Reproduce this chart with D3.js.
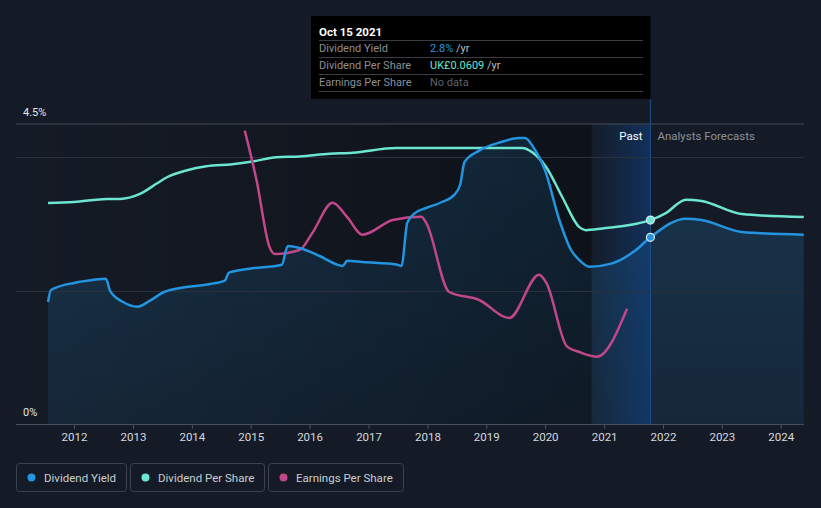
<!DOCTYPE html>
<html>
<head>
<meta charset="utf-8">
<script src="https://cdn.jsdelivr.net/npm/d3@7"></script>
<style>
  html, body { margin: 0; padding: 0; background: #151b26; }
  svg { display: block; font-family: Roboto, "Noto Sans", sans-serif; }
</style>
</head>
<body>
<svg id="chart" width="821" height="508"></svg>
<script>
// ---------- data ----------
const yieldDates = ["2011-07-24","2011-08-11","2012-01-08","2012-04-24","2012-07-17","2012-08-11","2012-10-31","2013-01-30","2013-04-16","2013-07-13","2013-10-19","2014-04-24","2014-07-24","2014-08-19","2014-12-24","2015-07-13","2015-08-19","2015-10-31","2016-03-03","2016-06-10","2016-07-24","2016-08-22","2016-11-25","2017-06-29","2017-07-24","2017-08-29","2017-10-19","2017-12-24","2018-04-01","2018-06-18","2018-07-24","2018-08-19","2018-11-18","2019-03-22","2019-07-24","2019-08-29","2019-10-23","2020-01-01","2020-03-29","2020-06-10","2020-07-31","2020-10-01","2021-02-20","2021-07-17","2021-10-15","2022-05-23","2022-08-29","2023-05-05","2024-05-23"];
const yieldValues = [1.83,2.01,2.12,2.16,2.18,2.00,1.83,1.76,1.85,1.98,2.04,2.10,2.15,2.27,2.33,2.39,2.67,2.64,2.52,2.40,2.37,2.45,2.43,2.39,2.37,3.02,3.17,3.24,3.33,3.44,3.60,3.93,4.10,4.22,4.29,4.29,4.14,3.80,3.06,2.61,2.46,2.36,2.41,2.61,2.80,3.08,3.06,2.88,2.84];

const dpsDates = ["2011-07-24","2012-01-01","2012-07-24","2012-10-12","2013-02-13","2013-05-31","2013-07-31","2013-12-02","2014-04-01","2014-09-09","2015-01-12","2015-06-10","2015-10-31","2016-05-05","2016-09-24","2017-06-21","2018-01-12","2019-08-11","2019-10-12","2020-01-08","2020-04-16","2020-07-31","2020-09-09","2020-12-20","2021-10-15","2022-01-19","2022-05-23","2022-08-29","2023-05-05","2024-05-23"];
const dpsValues = [0.0660,0.0663,0.0672,0.0672,0.0687,0.0719,0.0737,0.0758,0.0770,0.0776,0.0784,0.0797,0.0799,0.0807,0.0810,0.0824,0.0824,0.0824,0.0812,0.0767,0.0678,0.0588,0.0579,0.0584,0.0609,0.0630,0.0670,0.0666,0.0627,0.0618];

const epsDates = ["2014-11-25","2015-02-06","2015-04-27","2015-05-31","2015-10-31","2016-01-19","2016-05-23","2016-08-19","2016-11-25","2017-05-31","2017-11-25","2017-12-24","2018-05-16","2018-11-18","2019-05-23","2019-11-25","2020-01-08","2020-05-16","2020-07-31","2020-11-18","2021-05-23"];
const epsValues = [0.440,0.366,0.266,0.255,0.261,0.287,0.332,0.311,0.284,0.306,0.311,0.302,0.198,0.186,0.159,0.224,0.212,0.116,0.108,0.101,0.173];

const yTickLabels = ["0%","4.5%"];
const yearTicks = [2012,2013,2014,2015,2016,2017,2018,2019,2020,2021,2022,2023,2024];
const legendLabels = ["Dividend Yield","Dividend Per Share","Earnings Per Share"];
const tooltipDate = "Oct 15 2021";
const tooltipRows = [["Dividend Yield","2.8%"," /yr"],["Dividend Per Share","UK£0.0609"," /yr"],["Earnings Per Share","No data",""]];
const nowDate = "2021-10-15";
const pastStartDate = "2020-10-15";

// ---------- layout ----------
const C = { yld: "#2394df", dps: "#6ce5d1", eps: "#c2478a" };
const plot = { left: 16, right: 804, top: 124, bottom: 424 };
const svg = d3.select("#chart");
const parse = d3.timeParse("%Y-%m-%d");

const x = d3.scaleTime().domain([new Date(2012,0,1), new Date(2024,0,1)]).range([74, 780.7]);
const yY = d3.scaleLinear().domain([0, 4.5]).range([plot.bottom, plot.top]);
const yD = d3.scaleLinear().domain([0, 0.0896]).range([plot.bottom, plot.top]);
const yE = d3.scaleLinear().domain([0, 0.45]).range([plot.bottom, plot.top]);

const yieldData = yieldDates.map((d,i)=>({d:parse(d), v:yieldValues[i]}));
const dpsData = dpsDates.map((d,i)=>({d:parse(d), v:dpsValues[i]}));
const epsData = epsDates.map((d,i)=>({d:parse(d), v:epsValues[i]}));

const defs = svg.append("defs");
const gA = defs.append("linearGradient").attr("id","areaGrad").attr("x1",0).attr("y1",0).attr("x2",0).attr("y2",1);
gA.append("stop").attr("offset","0%").attr("stop-color",C.yld).attr("stop-opacity",0.22);
gA.append("stop").attr("offset","100%").attr("stop-color",C.yld).attr("stop-opacity",0.10);
const gP = defs.append("linearGradient").attr("id","pastGrad").attr("x1",0).attr("y1",0).attr("x2",1).attr("y2",0);
gP.append("stop").attr("offset","0%").attr("stop-color","#000").attr("stop-opacity",0);
gP.append("stop").attr("offset","100%").attr("stop-color","#000").attr("stop-opacity",0.35);
const gB = defs.append("linearGradient").attr("id","bandGrad").attr("x1",0).attr("y1",0).attr("x2",1).attr("y2",0);
gB.append("stop").attr("offset","0%").attr("stop-color","#0d4a9a").attr("stop-opacity",0.03);
gB.append("stop").attr("offset","100%").attr("stop-color","#0d4a9a").attr("stop-opacity",0.45);

const xNow = x(parse(nowDate));
const xPast = x(parse(pastStartDate));

// area under yield
const curve = d3.curveMonotoneX;
svg.append("path").datum(yieldData)
  .attr("d", d3.area().x(d=>x(d.d)).y0(plot.bottom).y1(d=>yY(d.v)).curve(curve))
  .attr("fill","url(#areaGrad)");

// past darkening
svg.append("rect").attr("x",plot.left).attr("y",plot.top).attr("width",xPast-plot.left).attr("height",plot.bottom-plot.top).attr("fill","url(#pastGrad)");
// last-year blue band
svg.append("rect").attr("x",xPast).attr("y",plot.top).attr("width",xNow-xPast).attr("height",plot.bottom-plot.top).attr("fill","url(#bandGrad)");

// gridlines
svg.append("line").attr("x1",plot.left).attr("x2",plot.right).attr("y1",yY(4.5)).attr("y2",yY(4.5)).attr("stroke","#454b56").attr("stroke-width",1);
[4,2].forEach(v=>{
  svg.append("line").attr("x1",plot.left).attr("x2",plot.right).attr("y1",Math.round(yY(v))+0.5).attr("y2",Math.round(yY(v))+0.5).attr("stroke","#2a313c").attr("stroke-width",1);
});

// now line
svg.append("line").attr("x1",xNow).attr("x2",xNow).attr("y1",99).attr("y2",plot.bottom).attr("stroke","#1d4f8f").attr("stroke-width",1);

// x axis
const xAxis = d3.axisBottom(x).tickValues(yearTicks.map(y=>new Date(y,0,1))).tickFormat(d3.timeFormat("%Y")).tickSize(5).tickPadding(4);
const ax = svg.append("g").attr("transform",`translate(0,${plot.bottom})`).call(xAxis);
ax.select(".domain").remove();
ax.selectAll(".tick line").attr("stroke","#4a505a");
ax.selectAll(".tick text").attr("fill","#d6d9de").attr("font-size","11.5px").attr("font-family","Roboto, sans-serif");
svg.append("line").attr("x1",plot.left).attr("x2",plot.right).attr("y1",plot.bottom+0.5).attr("y2",plot.bottom+0.5).attr("stroke","#4a505a");

// y labels
svg.append("text").attr("x",23).attr("y",yY(4.5)-8).text(yTickLabels[1]).attr("fill","#e4e6ea").attr("font-size","11px");
svg.append("text").attr("x",23).attr("y",yY(0)-8).text(yTickLabels[0]).attr("fill","#e4e6ea").attr("font-size","11px");

// Past / forecast labels
svg.append("text").attr("x",xNow-8).attr("y",140).attr("text-anchor","end").text("Past").attr("fill","#ffffff").attr("font-size","11.5px");
svg.append("text").attr("x",xNow+7).attr("y",140).text("Analysts Forecasts").attr("fill","#8a9099").attr("font-size","11.5px");

// lines
const line = (ys)=>d3.line().x(d=>x(d.d)).y(d=>ys(d.v)).curve(curve);
svg.append("path").datum(dpsData).attr("d",line(yD)).attr("fill","none").attr("stroke",C.dps).attr("stroke-width",2.5);
svg.append("path").datum(epsData).attr("d",line(yE)).attr("fill","none").attr("stroke",C.eps).attr("stroke-width",2.5);
svg.append("path").datum(yieldData).attr("d",line(yY)).attr("fill","none").attr("stroke",C.yld).attr("stroke-width",2.5);

// markers
const nowD = parse(nowDate);
const dpsNow = dpsData.find(d=>+d.d===+nowD).v;
const yldNow = yieldData.find(d=>+d.d===+nowD).v;
svg.append("circle").attr("cx",xNow).attr("cy",yD(dpsNow)).attr("r",4).attr("fill",C.dps).attr("stroke","#dfe6f0").attr("stroke-width",1.2);
svg.append("circle").attr("cx",xNow).attr("cy",yY(yldNow)).attr("r",4).attr("fill",C.yld).attr("stroke","#dfe6f0").attr("stroke-width",1.2);

// tooltip
const tt = svg.append("g");
tt.append("rect").attr("x",311).attr("y",16).attr("width",xNow-311).attr("height",83).attr("fill","#000");
tt.append("text").attr("x",319).attr("y",36).text(tooltipDate).attr("fill","#fff").attr("font-size","11.5px").attr("font-weight","bold");
[40.5,57.5,74.5,91.5].forEach(yy=>tt.append("line").attr("x1",319).attr("x2",643).attr("y1",yy).attr("y2",yy).attr("stroke","#3a3d42"));
const valColors = [C.yld, C.dps, "#5d636c"];
tooltipRows.forEach((r,i)=>{
  const yy = 52 + i*17;
  tt.append("text").attr("x",319).attr("y",yy).text(r[0]).attr("fill","#8b8f96").attr("font-size","11px");
  const t = tt.append("text").attr("x",430).attr("y",yy).attr("font-size","11px");
  t.append("tspan").text(r[1]).attr("fill",valColors[i]);
  if (r[2]) t.append("tspan").text(r[2]).attr("fill","#b9bdc3");
});

// legend
const legBoxes = [[16,110],[130,134],[268,135]];
const legColors = [C.yld, C.dps, C.eps];
legendLabels.forEach((lab,i)=>{
  const [bx,bw] = legBoxes[i];
  const g = svg.append("g");
  g.append("rect").attr("x",bx+0.5).attr("y",463.5).attr("width",bw).attr("height",28).attr("rx",3).attr("fill","none").attr("stroke","#3b4250");
  g.append("circle").attr("cx",bx+15.5).attr("cy",477.5).attr("r",4).attr("fill",legColors[i]);
  g.append("text").attr("x",bx+28).attr("y",481.5).text(lab).attr("fill","#c9cdd3").attr("font-size","11.5px");
});
</script>
</body>
</html>
